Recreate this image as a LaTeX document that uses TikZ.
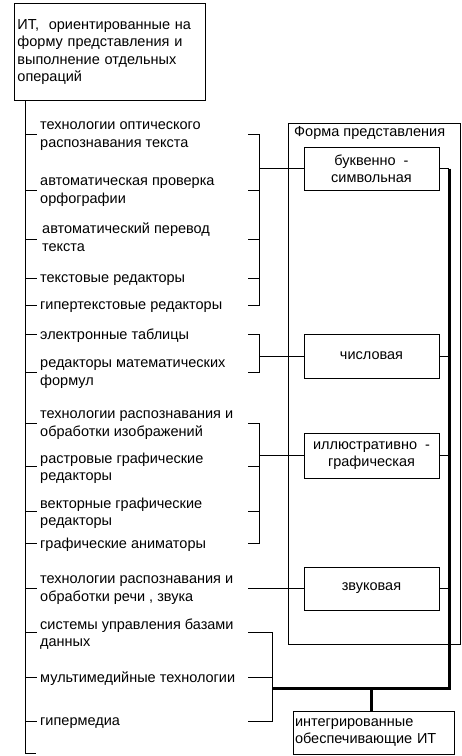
\documentclass[tikz,border=0pt]{standalone}
\usepackage{fontspec}
\setmainfont{Liberation Sans}
\begin{document}
\begin{tikzpicture}[x=1pt,y=-1pt,
  every node/.style={font=\fontsize{14.5}{17.5}\selectfont},
  item/.style={anchor=west, align=left, inner xsep=3pt, inner ysep=0pt, yshift=-2pt},
  formbox/.style={draw, line width=0.9pt, minimum width=135pt, align=center, inner sep=0pt},
  ln/.style={line width=0.9pt},
  busline/.style={line width=3pt, line join=miter}]
\useasboundingbox (0,0) rectangle (462,756);

% top box
\node[draw, ln, anchor=north west, text width=185pt, minimum height=97pt, align=left, inner xsep=3pt, inner ysep=0pt] (top) at (14,3)
  {ИТ,\ \ ориентированные на\\форму представления и\\выполнение отдельных\\операций};

\coordinate (trunk) at (25,100);
\coordinate (trunkend) at (25,753);
\draw[ln] (trunk) -- (trunkend) -- ++(11,0);

% items
\node[item] (i1) at (37,134) {технологии оптического\\распознавания текста};
\node[item] (i2) at (37,190) {автоматическая проверка\\орфографии};
\node[item, yshift=6pt] (i3) at (39,241) {автоматический перевод\\текста};
\node[item] (i4) at (37,278) {текстовые редакторы};
\node[item] (i5) at (37,305) {гипертекстовые редакторы};
\node[item] (i6) at (37,334) {электронные таблицы};
\node[item] (i7) at (37,372) {редакторы математических\\формул};
\node[item] (i8) at (37,423) {технологии распознавания и\\обработки изображений};
\node[item] (i9) at (37,466) {растровые графические\\редакторы};
\node[item] (i10) at (37,511) {векторные графические\\редакторы};
\node[item] (i11) at (37,543) {графические аниматоры};
\node[item] (i12) at (37,588) {технологии распознавания и\\обработки речи , звука};
\node[item] (i13) at (37,632) {системы управления базами\\данных};
\node[item] (i14) at (37,677) {мультимедийные технологии};
\node[item] (i15) at (37,721) {гипермедиа};

\foreach \n in {i1,i2,i4,i5,i6,i7,i8,i9,i10,i11,i12,i13,i14,i15}
  \draw[ln] ([yshift=2pt]\n.west -| trunk) -- ([yshift=2pt]\n.west);
\coordinate (i3tick) at ([yshift=-2pt,xshift=-2pt]i3.west);
\draw[ln] (i3tick -| trunk) -- (i3tick);

% frame
\node[draw, ln, anchor=north west, minimum width=172pt, minimum height=521pt, inner sep=0pt] (frame) at (288,123) {};
\node[anchor=north west, inner xsep=6pt, inner ysep=3pt] (title) at (frame.north west) {Форма представления};

% form boxes
\node[formbox, minimum height=43pt] (f1) at (371.5,168.5) {буквенно\ \ -\\символьная};
\node[formbox, minimum height=44pt] (f2) at (371.5,356) {числовая};
\node[formbox, minimum height=45pt] (f3) at (371.5,455.5) {иллюстративно\ \ -\\графическая};
\node[formbox, minimum height=43pt] (f4) at (371.5,588.5) {звуковая};

% integrated box
\node[draw, ln, minimum width=161pt, minimum height=43pt, text width=157pt, align=left, inner xsep=2pt, inner ysep=0pt, font=\fontsize{14.5}{16.5}\selectfont] (int) at (373.5,732.5)
  {интегрированные\\обеспечивающие ИТ};

% brackets
\coordinate (ba) at (259,0);
\coordinate (bb) at (272,0);
\coordinate (bs) at (248,0);
\coordinate (bus) at (449,0);

\draw[ln] ([yshift=2pt]i1.west -| bs) -| ([yshift=2pt]i5.west -| ba) -- ([yshift=2pt]i5.west -| bs);
\foreach \n in {i2,i4} \draw[ln] ([yshift=2pt]\n.west -| bs) -- ([yshift=2pt]\n.west -| ba);
\draw[ln] (i3tick -| bs) -- (i3tick -| ba);
\draw[ln] (f1.west -| ba) -- (f1.west);

\draw[ln] ([yshift=2pt]i6.west -| bs) -| ([yshift=2pt]i7.west -| ba) -- ([yshift=2pt]i7.west -| bs);
\draw[ln] (f2.west -| ba) -- (f2.west);

\draw[ln] ([yshift=2pt]i8.west -| bs) -| ([yshift=2pt]i11.west -| ba) -- ([yshift=2pt]i11.west -| bs);
\foreach \n in {i9,i10} \draw[ln] ([yshift=2pt]\n.west -| bs) -- ([yshift=2pt]\n.west -| ba);
\draw[ln] (f3.west -| ba) -- (f3.west);

\draw[ln] (f4.west -| bs) -- (f4.west);

\draw[ln] ([yshift=2pt]i13.west -| bs) -| ([yshift=2pt]i15.west -| bb) -- ([yshift=2pt]i15.west -| bs);
\draw[ln] ([yshift=2pt]i14.west -| bs) -- ([yshift=2pt]i14.west -| bb);

% bus
\foreach \n in {f1,f2,f3,f4} \draw[ln] (\n.east) -- (\n.east -| bus);
\coordinate (buscorner) at (449,688);
\coordinate (busjoin) at (371.5,688);
\draw[busline] (f1.east -| bus) -- (buscorner) -- (buscorner -| bb);
\draw[busline] (busjoin) -- (int.north -| busjoin);
\end{tikzpicture}
\end{document}
